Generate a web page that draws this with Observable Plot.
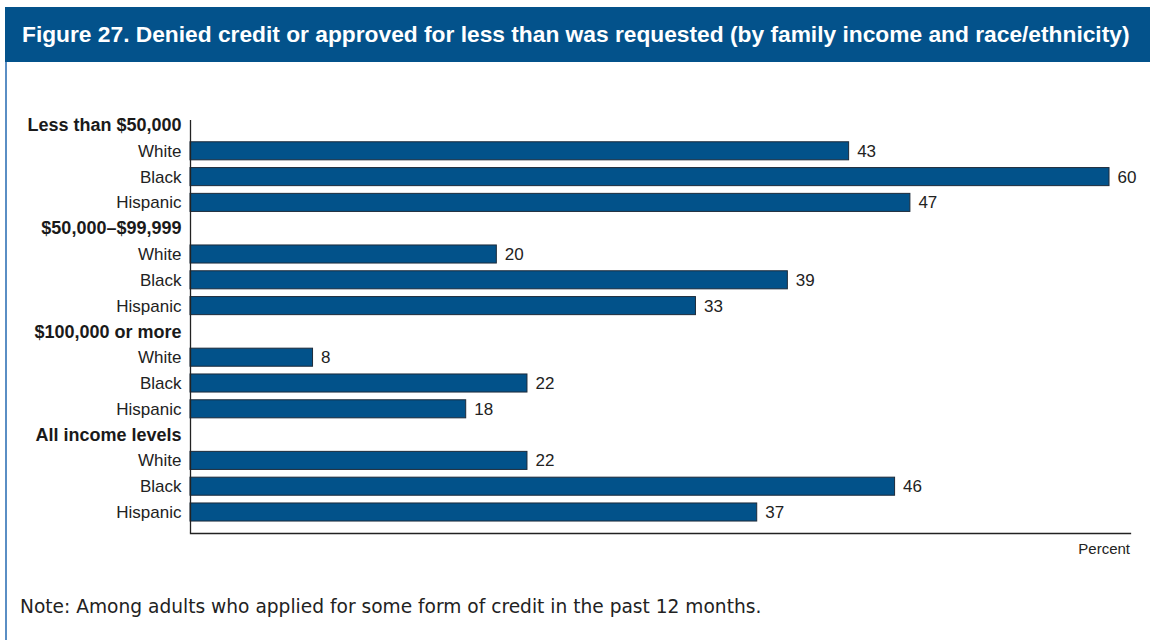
<!DOCTYPE html>
<html>
<head>
<meta charset="utf-8">
<script src="https://cdn.jsdelivr.net/npm/d3@7"></script>
<script src="https://cdn.jsdelivr.net/npm/@observablehq/plot@0.6"></script>
<style>
  html, body { margin: 0; padding: 0; background: #fff; }
  #page { position: relative; width: 1150px; height: 640px; overflow: hidden; background: #fff; }
  #title { position: absolute; left: 5px; top: 7px; width: 1145px; height: 55px; background: #03528b;
    color: #fff; font-family: "Liberation Sans", Arial, sans-serif; font-weight: bold; font-size: 22.8px;
    line-height: 55px; box-sizing: border-box; padding-left: 17px; white-space: nowrap; }
  #leftborder { position: absolute; left: 5px; top: 62px; width: 2px; height: 578px; background: #5a8ec4; }
  #chart { position: absolute; left: 7px; top: 62px; }
  #percent { position: absolute; right: 20px; top: 540px; font-family: "Liberation Sans", Arial, sans-serif;
    font-size: 15px; color: #222; }
  #note { position: absolute; left: 20px; top: 606px; transform: translateY(-50%); font-family: "DejaVu Sans", Verdana, sans-serif;
    font-size: 16px; color: #222; white-space: nowrap; }
</style>
</head>
<body>
<div id="page">
  <div id="title"><span id="titletext">Figure 27. Denied credit or approved for less than was requested (by family income and race/ethnicity)</span></div>
  <div id="leftborder"></div>
  <div id="chart"></div>
  <div id="percent">Percent</div>
  <div id="note"><span id="notetext">Note: Among adults who applied for some form of credit in the past 12 months.</span></div>
</div>
<script>
const groups = ["Less than $50,000", "$50,000–$99,999", "$100,000 or more", "All income levels"];
const races = ["White", "Black", "Hispanic"];
const lessThan50k = [43, 60, 47];
const from50kTo99k = [20, 39, 33];
const over100k = [8, 22, 18];
const allIncomeLevels = [22, 46, 37];
const seriesByGroup = [lessThan50k, from50kTo99k, over100k, allIncomeLevels];

const headers = [];
const bars = [];
const keys = [];
groups.forEach((g, gi) => {
  headers.push({ key: g, label: g });
  keys.push(g);
  races.forEach((r, ri) => {
    const key = g + "|" + r;
    keys.push(key);
    bars.push({ key, label: r, value: seriesByGroup[gi][ri] });
  });
});

const font = "'Liberation Sans', Arial, sans-serif";

const chart = Plot.plot({
  width: 1143,
  height: 510,
  marginLeft: 183,
  marginRight: 20,
  marginTop: 58,
  marginBottom: 39,
  style: { fontFamily: font, background: "transparent", overflow: "visible" },
  x: { domain: [0, 61.37], axis: null },
  y: { domain: keys, range: [50.1, 462.9], paddingInner: 0.3, paddingOuter: 0.15, round: false, axis: null },
  marks: [
    Plot.barX(bars, { x: "value", y: "key", fill: "#02528a", stroke: "#1d2b3a", strokeWidth: 1 }),
    Plot.text(bars, { x: "value", y: "key", text: d => String(d.value), textAnchor: "start", dx: 8,
      fontSize: 17, fill: "#222" }),
    Plot.text(bars, { y: "key", text: "label", frameAnchor: "left", textAnchor: "end", dx: -9,
      fontSize: 17, fill: "#222" }),
    Plot.text(headers, { y: "key", text: "label", frameAnchor: "left", textAnchor: "end", dx: -9,
      fontSize: 18, fontWeight: "bold", fill: "#1a1a1a" }),
    Plot.ruleX([0], { stroke: "#222", strokeWidth: 1.3 }),
    Plot.frame({ anchor: "bottom", stroke: "#222", strokeWidth: 1.3 })
  ]
});
document.getElementById("chart").appendChild(chart);

// fit text widths to the reference
function fit(id, target, base) {
  const el = document.getElementById(id);
  const w = el.getBoundingClientRect().width;
  if (w > 0) el.parentNode.style.fontSize = (base * target / w).toFixed(2) + "px";
}
fit("titletext", 1108, 22.8);
fit("notetext", 742, 16);
</script>
</body>
</html>
